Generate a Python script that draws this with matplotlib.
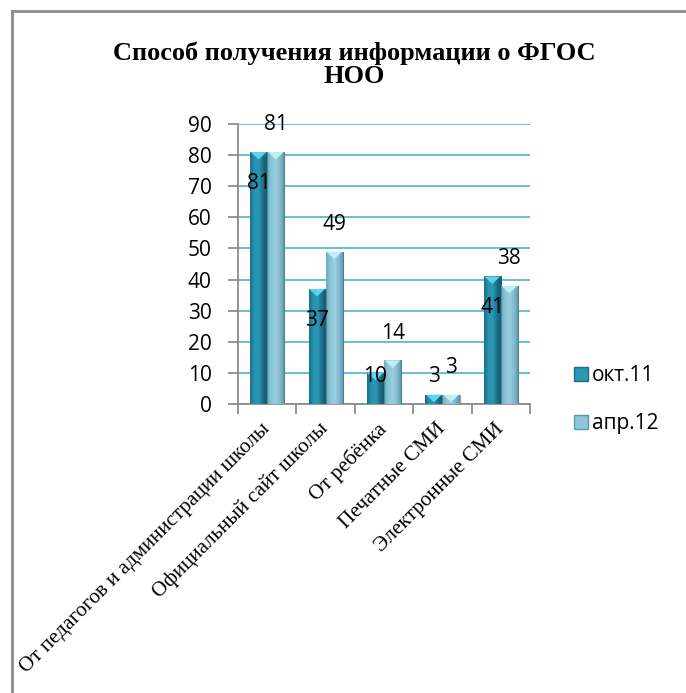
import matplotlib; matplotlib.use("Agg")
import matplotlib.pyplot as plt
import numpy as np
from matplotlib.patches import Polygon
from matplotlib.colors import LinearSegmentedColormap
from matplotlib.lines import Line2D

categories = ["От педагогов и администрации школы", "Официальный сайт школы",
              "От ребёнка", "Печатные СМИ", "Электронные СМИ"]
oct11 = [81, 37, 10, 3, 41]
apr12 = [81, 49, 14, 3, 38]
series_names = ["окт.11", "апр.12"]
yticks = list(range(0, 91, 10))

SANS = "Open Sans"
SERIF = "Liberation Serif"

dark_cm = LinearSegmentedColormap.from_list("d", ["#1a7089", "#2894b2", "#2a97b5", "#1c6c83", "#14566a"])
light_cm = LinearSegmentedColormap.from_list("l", ["#68afc3", "#8cc6d8", "#9acfe0", "#80b8ca", "#5a98aa"])
bevel = {"d": "#5fd3ee", "l": "#c4ecf6"}

fig = plt.figure(figsize=(6.86, 6.93), dpi=100)
ax = fig.add_axes([0.347, 0.417, 0.4256, 0.404])

x = np.arange(len(categories))
w = 0.293
b1 = ax.bar(x - w / 2, oct11, w, color="#2a98b6", zorder=3, lw=0)
b2 = ax.bar(x + w / 2, apr12, w, color="#93cde0", zorder=3, lw=0)

grad = np.linspace(0, 1, 64).reshape(1, -1)
for bars, cm, key in [(b1, dark_cm, "d"), (b2, light_cm, "l")]:
    for p in bars:
        x0, y0 = p.get_x(), p.get_y()
        x1, y1 = x0 + p.get_width(), y0 + p.get_height()
        im = ax.imshow(grad, cmap=cm, extent=(x0, x1, y0, y1), aspect="auto", zorder=4)
        im.set_clip_path(p)
        h = min(2.4, (y1 - y0) * 0.8)
        ax.add_patch(Polygon([(x0 + 0.01, y1), (x1 - 0.01, y1), ((x0 + x1) / 2, y1 - h)],
                             closed=True, fc=bevel[key], ec="none", zorder=5))
        ax.plot([x1, x1], [y0, y1], color="#3f6f7c", lw=0.8, zorder=5, alpha=0.6)

# data labels
for xi, v in zip(x, oct11):
    ax.text(xi - w / 2, max(v - 10, 8.7), str(v), ha="center", va="center",
            fontsize=15, family=SANS, zorder=6)
for xi, v in zip(x, apr12):
    ax.text(xi + w / 2, v + 8.7, str(v), ha="center", va="center",
            fontsize=15, family=SANS, zorder=6)

ax.set_xlim(-0.5, len(categories) - 0.5)
ax.set_ylim(0, 90)
ax.set_yticks(yticks)
ax.set_yticklabels([str(t) for t in yticks], fontsize=15, family=SANS)
ax.yaxis.grid(True, color="#4fb3d1", lw=1.2, zorder=0)
ax.set_axisbelow(True)
for s in ["top", "right"]:
    ax.spines[s].set_visible(False)
for s in ["left", "bottom"]:
    ax.spines[s].set_color("#8c8c8c")
    ax.spines[s].set_linewidth(1.3)
ax.tick_params(axis="y", length=7, color="#8c8c8c", width=1.3, pad=12)
ax.set_xticks(x)
ax.set_xticklabels(categories, rotation=45, ha="right", va="center",
                   rotation_mode="anchor", fontsize=15.2, family=SERIF)
ax.tick_params(axis="x", length=0, pad=16)
ax.set_xticks(np.arange(-0.5, len(categories)), minor=True)
ax.tick_params(axis="x", which="minor", length=7, color="#8c8c8c", width=1.3)

fig.text(0.516, 0.907, "Способ получения информации о ФГОС\nНОО", ha="center", va="center",
         fontsize=19, fontweight="bold", family=SERIF, linespacing=1.0)

handles = [Line2D([], [], marker="s", ls="none", markersize=10, mfc="#2a98b6", mec="#1d6f86"),
           Line2D([], [], marker="s", ls="none", markersize=10, mfc="#8cc6d8", mec="#5a98aa")]
leg = fig.legend(handles, series_names, loc="upper left", bbox_to_anchor=(0.822, 0.485),
                 frameon=False, prop={"family": SANS, "size": 15}, handlelength=0.8,
                 handletextpad=0.15, labelspacing=1.3, borderaxespad=0)

# chart frame (cropped)
fig.add_artist(Line2D([0.0175, 1.0], [0.984, 0.984], color="#8c8c8c", lw=2, transform=fig.transFigure))
fig.add_artist(Line2D([0.0175, 0.0175], [0.0, 0.984], color="#8c8c8c", lw=2, transform=fig.transFigure))

fig.savefig("out.png", dpi=100)
